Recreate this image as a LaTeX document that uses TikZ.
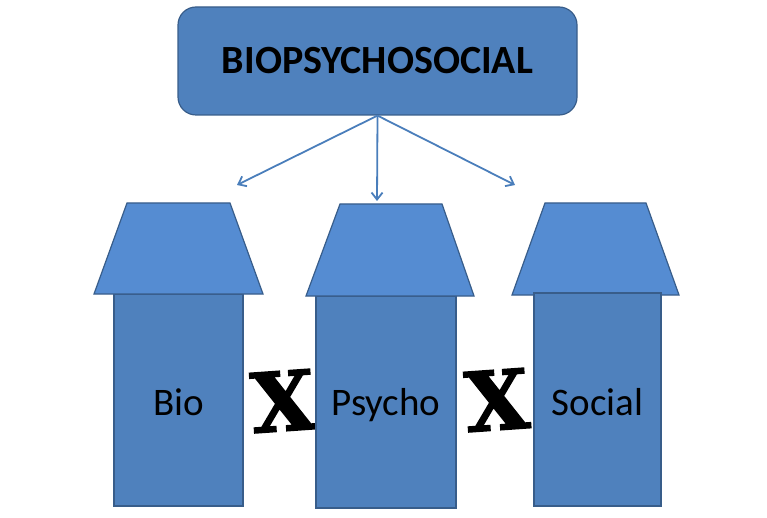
\documentclass[tikz,border=0pt]{standalone}
\usepackage{fontspec}
\setmainfont{Carlito}
\newfontfamily\xfont{DejaVu Serif}[BoldFeatures={FakeBold=2}]
\usetikzlibrary{arrows.meta}

\definecolor{boxblue}{RGB}{79,129,189}
\definecolor{roofblue}{RGB}{85,140,210}
\definecolor{edgeblue}{RGB}{56,93,138}
\definecolor{arrowblue}{RGB}{74,126,187}

\tikzset{
  titlebox/.style={draw=edgeblue, line width=1.2pt, fill=boxblue,
    rounded corners=18pt, minimum width=399pt, minimum height=108pt,
    inner sep=0pt, font=\bfseries\fontsize{40}{40}\selectfont},
  house/.style={draw=edgeblue, line width=1.2pt, fill=boxblue,
    inner sep=0pt},
  roof/.style={draw=edgeblue, line width=1.2pt, fill=roofblue,
    line join=miter},
  conn/.style={draw=arrowblue, line width=1.8pt,
    -{Straight Barb[length=7pt,width=11pt]}},
  housetext/.style={anchor=base, inner sep=0pt,
    font=\fontsize{39}{39}\selectfont},
  xmark/.style={inner sep=0pt, rotate=4,
    font=\xfont\bfseries\fontsize{82}{82}\selectfont}
}

\begin{document}
\begin{tikzpicture}[x=1pt, y=-1pt]
  \useasboundingbox (0,0) rectangle (767,518);

  % top heading box
  \node[titlebox] (top) at (377.5,61) {BIOPSYCHOSOCIAL};

  % arrow ends above the three houses
  \coordinate (aL) at (237,185);
  \coordinate (aM) at (377,201);
  \coordinate (aR) at (515,185);
  \draw[conn] (top.south) -- (aL);
  \draw[conn] (top.south) -- (aM);
  \draw[conn] (top.south) -- (aR);

  % crosses between the houses
  \node[xmark] (x1) at (283,401) {X};
  \node[xmark] (x2) at (497,400) {X};

  % Bio house
  \node[house, minimum width=129pt, minimum height=212pt] (bio) at (178.5,400) {};
  \path[roof] (127,203) -- (230,203) -- (263,294) -- (94,294) -- cycle;
  \node[housetext] (biot) at (178.5,415) {Bio};

  % Psycho house
  \node[house, minimum width=140pt, minimum height=212pt] (psy) at (386,402) {};
  \path[roof] (340,204) -- (442,204) -- (474,296) -- (306,296) -- cycle;
  \node[housetext] (psyt) at (386,415) {Psycho};

  % Social house
  \path[roof] (545,203) -- (646,203) -- (679,295) -- (512,295) -- cycle;
  \node[house, minimum width=127pt, minimum height=213pt] (soc) at (597.5,399.5) {};
  \node[housetext] (soct) at (597.5,415) {Social};
\end{tikzpicture}
\end{document}
